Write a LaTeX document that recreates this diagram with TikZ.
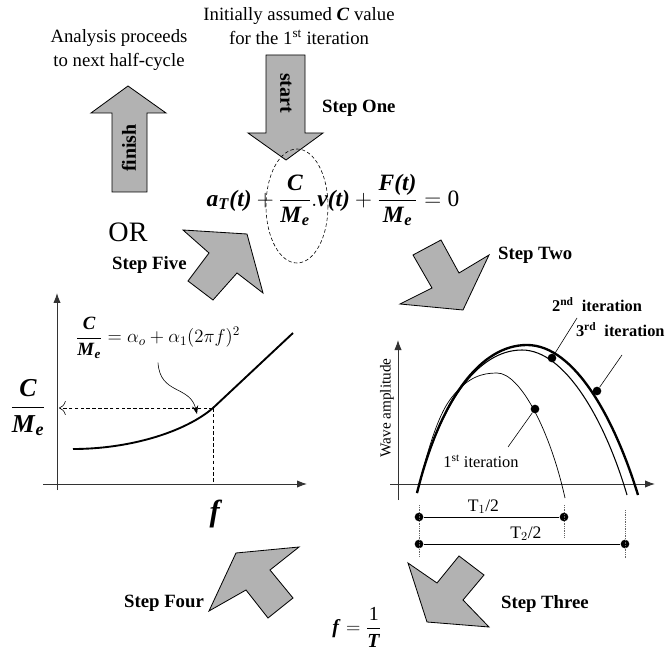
\RequirePackage{fix-cm}
\documentclass[tikz,border=0pt]{standalone}
\usepackage{amsmath}
\usepackage{fontspec}
\setmainfont{Liberation Serif}
\usetikzlibrary{arrows.meta, positioning}
\newcommand{\bv}[1]{\textbf{\textit{#1}}}

\begin{document}
\begin{tikzpicture}[
  x=0.03cm, y=-0.03cm,
  blockarr/.style={draw, line width=0.7pt, fill=black!30, line join=miter},
  stepname/.style={anchor=west, font=\fontsize{16}{19}\selectfont\bfseries},
  note/.style={align=center, font=\fontsize{16}{20.5}\selectfont},
  axisline/.style={draw=black!80, line width=0.8pt, -{Latex[length=3mm, width=2.2mm]}},
  guide/.style={line width=0.5pt, dash pattern=on 3pt off 2pt},
  iterdot/.style={circle, fill=black, inner sep=0pt, minimum size=2.6mm},
  dimline/.style={line width=0.6pt},
  tickline/.style={densely dotted, black!60, line width=0.5pt},
  lead/.style={line width=0.5pt}
]
\useasboundingbox (0,0) rectangle (666,653);

% top notes
\node[note] (init) at (299,26) {Initially assumed \bv{C} value\\for the 1\textsuperscript{st} iteration};
\node[note] (next) at (119,50) {Analysis proceeds\\to next half-cycle};

% start and finish
\draw[blockarr] (266,55) -- (305,55) -- (305,133) -- (323,133) -- (286,160) -- (248,133) -- (266,133) -- cycle;
\node[rotate=-90, font=\fontsize{17}{20}\selectfont\bfseries] (starttxt) at (286,93) {start};
\draw[blockarr] (112,192) -- (147,192) -- (147,113) -- (166,113) -- (128,86) -- (91,113) -- (112,113) -- cycle;
\node[rotate=90, font=\fontsize{17}{20}\selectfont\bfseries] (fintxt) at (129,148) {finish};
\node[stepname] (stepone) at (318,108) {Step One};

% equation of motion
\node[font=\fontsize{20}{24}\selectfont] (eq) at (333,200)
  {$\bv{a}_{\bv{T}}\bv{(t)}+\dfrac{\bv{C}}{\bv{M}_{\bv{e}}}.\bv{v(t)}+\dfrac{\bv{F(t)}}{\bv{M}_{\bv{e}}}=\textrm{0}$};
\draw[guide] (297,206) ellipse (31 and 57);

\node[font=\fontsize{24}{28}\selectfont] (or) at (128,232) {OR};

% step arrows
\draw[blockarr] (183,230) -- (247,234) -- (263,293) -- (237,273) -- (213,300) -- (188,281) -- (209,253) -- cycle;
\node[stepname] (stepfive) at (108,265) {Step Five};
\draw[blockarr] (413,255) -- (441,240) -- (459,273) -- (489,255) -- (463,310) -- (400,304) -- (432,288) -- cycle;
\node[stepname] (steptwo) at (494,255) {Step Two};
\draw[blockarr] (408,563) -- (437,583) -- (459,556) -- (484,575) -- (463,600) -- (489,627) -- (427,622) -- cycle;
\node[stepname] (stepthree) at (497,604) {Step Three};
\draw[blockarr] (236,553) -- (299,547) -- (270,570) -- (293,598) -- (268,618) -- (246,590) -- (209,611) -- cycle;
\node[stepname, anchor=east] (stepfour) at (208,603) {Step Four};

\node[font=\fontsize{17}{20}\selectfont] (fT) at (357,627) {$\bv{f}=\dfrac{\textrm{1}}{\bv{T}}$};

% damping curve
\draw[axisline] (57,490) -- (57,293);
\draw[axisline] (43,484) -- (307,484);
\coordinate (op) at (213,408);
\coordinate (hit) at (197,414);
\draw[line width=1.6pt] (73,449) .. controls (130,449) and (185,432) .. (op) -- (293,333);
\draw[guide, -{To[length=2mm]}] (op) -- (59,408);
\draw[guide] (op) -- (213,484);
\node[font=\fontsize{16}{19}\selectfont] (law) at (158,338)
  {$\dfrac{\bv{C}}{\bv{M}_{\bv{e}}}=\alpha_o+\alpha_1(2\pi f)^2$};
\draw[lead, -{Stealth[length=2.5mm]}] (law.south) .. controls (160,395) and (190,385) .. (hit);
\node[font=\fontsize{22}{26}\selectfont] (cme) at (28,408) {$\dfrac{\bv{C}}{\bv{M}_{\bv{e}}}$};
\node[font=\fontsize{26}{30}\selectfont] (fl) at (216,514) {\bv{f}};

% wave amplitude
\draw[axisline] (398,500) -- (398,340);
\draw[axisline] (390,484) -- (655,484);
\node[rotate=90, font=\fontsize{13}{16}\selectfont] (amp) at (387,408) {Wave amplitude};
\draw[line width=0.6pt] (417,493) .. controls (430,440) and (440,412) .. (452,397)
  .. controls (468,377) and (482,373) .. (497,373) .. controls (520,373) and (550,430) .. (565,498);
\draw[line width=0.9pt] (417,493) .. controls (440,402) and (478,350) .. (522,350)
  .. controls (565,350) and (605,420) .. (627,495);
\draw[line width=2pt] (417,493) .. controls (440,400) and (480,345) .. (527,345)
  .. controls (575,345) and (615,420) .. (638,495);
\node[iterdot] (d1) at (535,409) {};
\node[iterdot] (d2) at (552,358) {};
\node[iterdot] (d3) at (597,391) {};
\node[font=\fontsize{14}{17}\selectfont] (it1) at (481,461) {1\textsuperscript{st} iteration};
\node[font=\fontsize{14}{17}\selectfont\bfseries, anchor=west] (it2) at (548,305) {2\textsuperscript{nd}~~iteration};
\node[font=\fontsize{14}{17}\selectfont\bfseries, anchor=east, inner xsep=1pt] (it3) at (666,330) {3\textsuperscript{rd}~~iteration};
\coordinate (l1) at (508,447);
\coordinate (l2) at (577,318);
\coordinate (l3) at (622,355);
\draw[lead] (l1) -- (d1);
\draw[lead] (l2) -- (d2);
\draw[lead] (l3) -- (d3);

% half periods
\node[iterdot] (t1a) at (419,517) {};
\node[iterdot] (t1b) at (564,517) {};
\node[iterdot] (t2a) at (419,544) {};
\node[iterdot] (t2b) at (625,544) {};
\draw[dimline] (t1a) -- (t1b) node[pos=0.44, above=-1pt, font=\fontsize{15}{18}\selectfont] {T$_1$/2};
\draw[dimline] (t2a) -- (t2b) node[pos=0.52, above=-1pt, font=\fontsize{15}{18}\selectfont] {T$_2$/2};
\draw[tickline] (419,505) -- (419,556);
\draw[tickline] (564,505) -- (564,537);
\draw[tickline] (625,510) -- (625,558);
\end{tikzpicture}
\end{document}
